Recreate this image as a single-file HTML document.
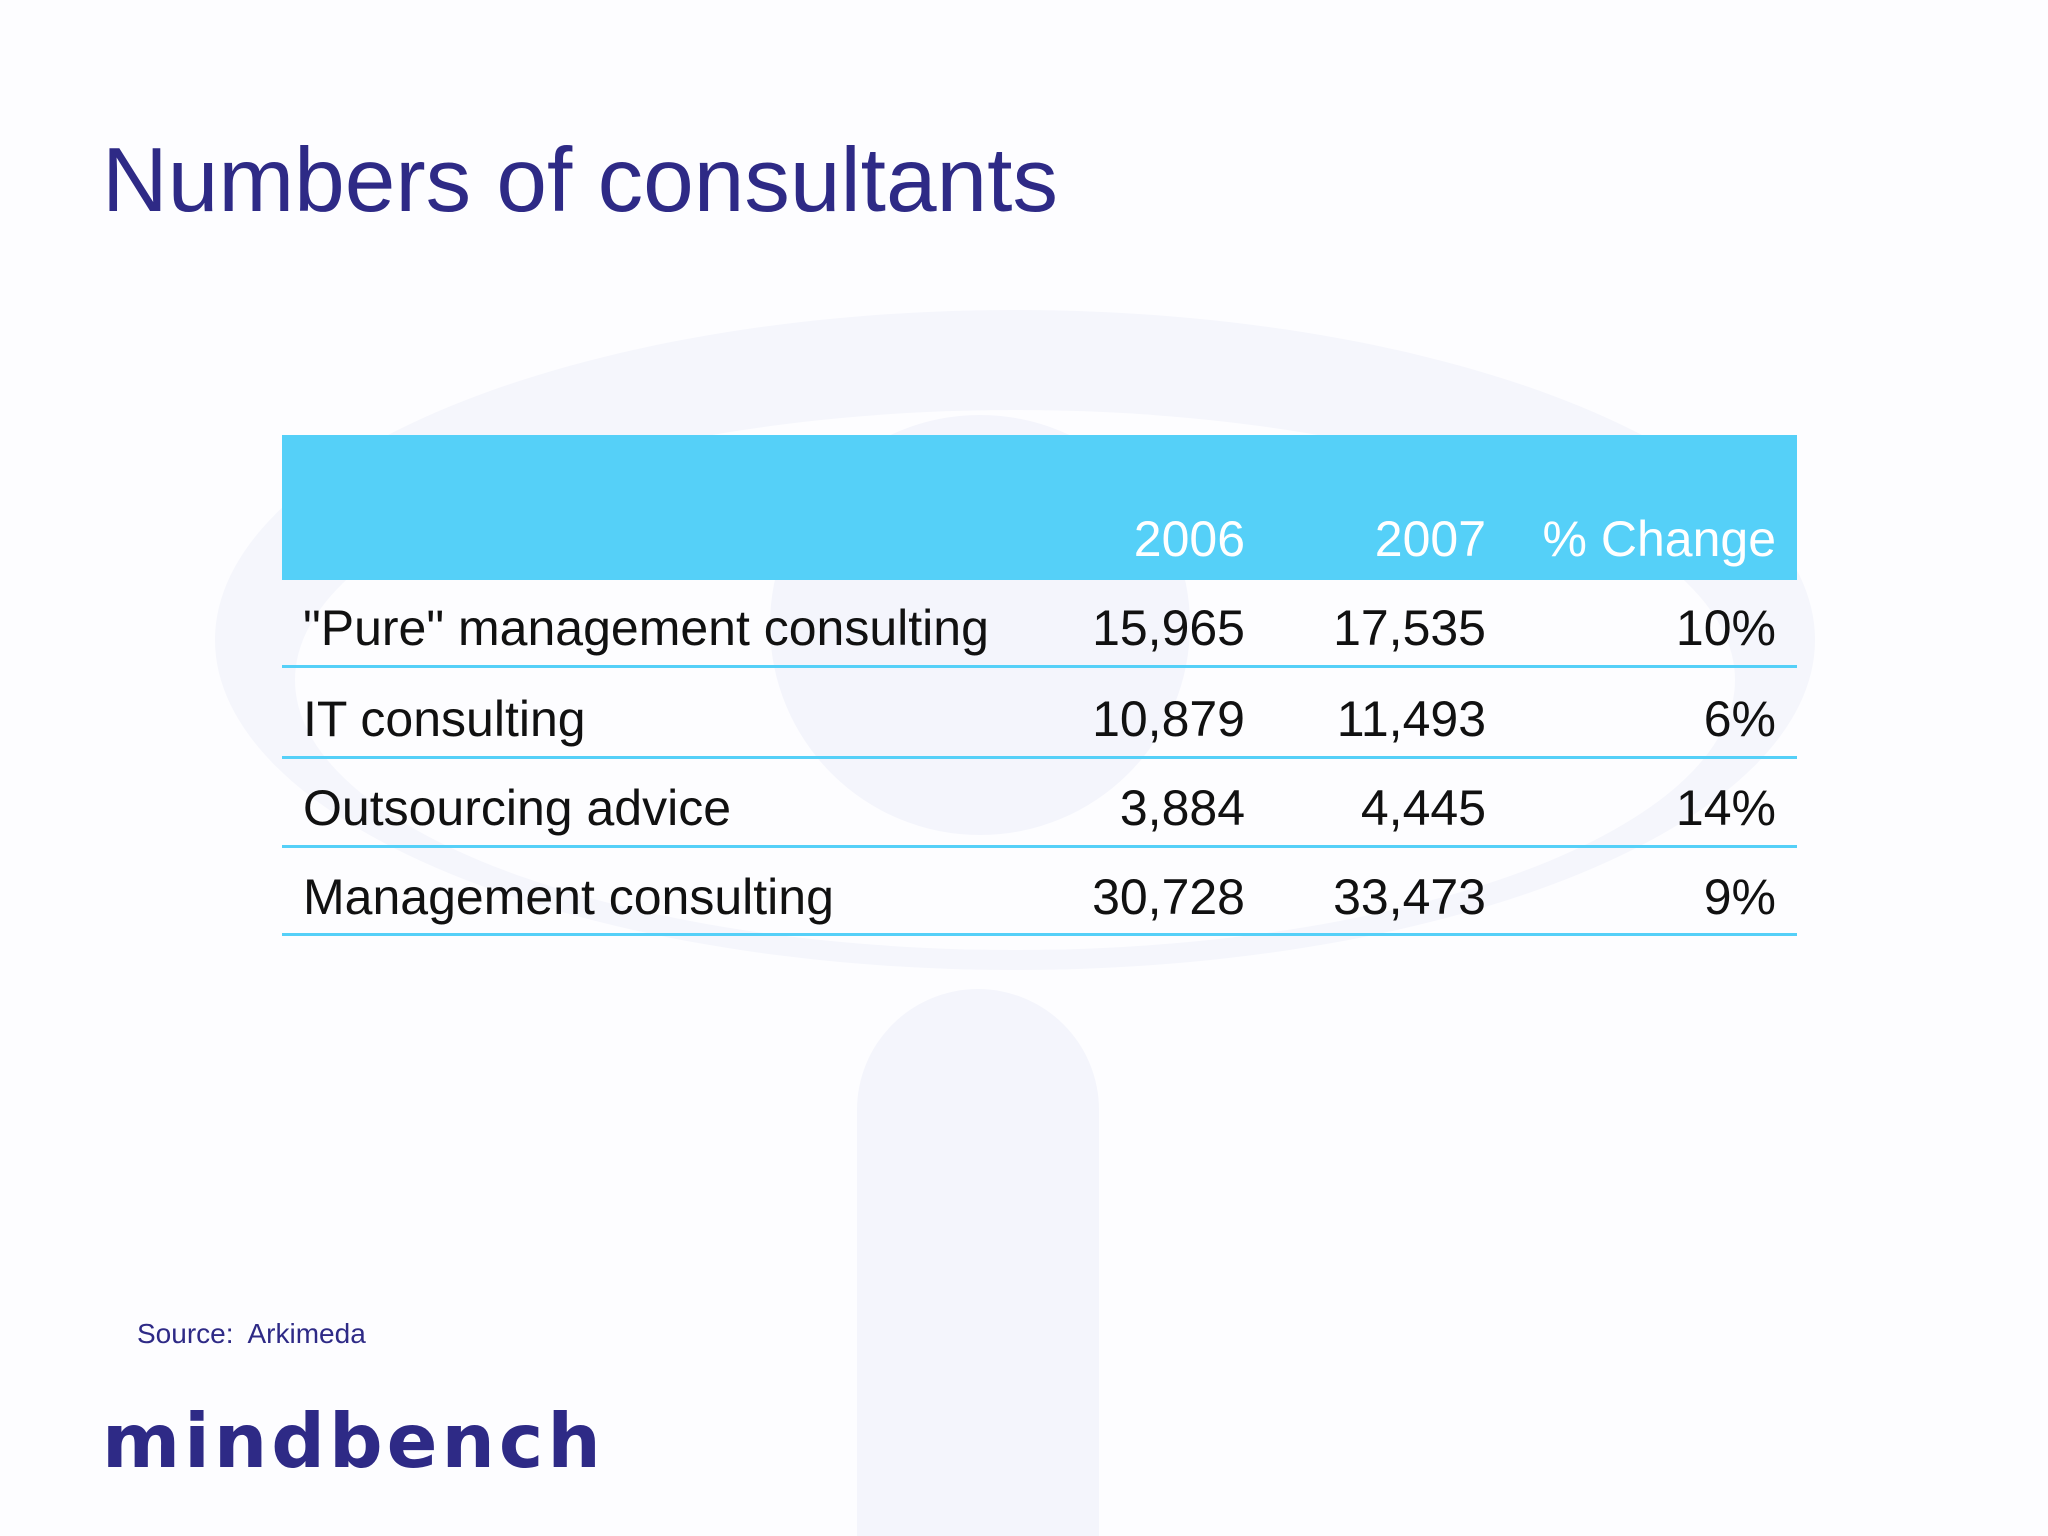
<!DOCTYPE html>
<html><head><meta charset="utf-8"><style>
body{margin:0;width:2048px;height:1536px;position:relative;background:#fdfdff;overflow:hidden;font-family:"Liberation Sans",sans-serif}
.t{position:absolute;white-space:nowrap}
</style></head><body>
<svg style="position:absolute;left:0;top:0" width="2048" height="1536">
<ellipse cx="1015" cy="640" rx="800" ry="330" fill="#f5f6fc"/>
<ellipse cx="1015" cy="680" rx="720" ry="270" fill="#fdfdff"/>
<circle cx="980" cy="625" r="210" fill="#f4f5fc"/>
<path d="M857 1536 V1110 a121 121 0 0 1 242 0 V1536 Z" fill="#f4f5fc"/>
</svg>
<div class="t" style="left:102px;top:129px;font-size:91px;color:#2e2a86">Numbers of consultants</div>
<div style="position:absolute;left:282px;top:435px;width:1515px;height:145px;background:#55d0f8"></div>
<div id="tbl"></div>
<div class="t" style="left:137px;top:1318px;font-size:28px;color:#2e2a86">Source:&nbsp; Arkimeda</div>
<div class="t" style="left:102px;top:1397px;font-family:'DejaVu Sans',sans-serif;font-weight:bold;font-size:75px;letter-spacing:4px;color:#2e2a86">mindbench</div>
<script>
const labels=['"Pure" management consulting','IT consulting','Outsourcing advice','Management consulting'];
const v2006=['15,965','10,879','3,884','30,728'];
const v2007=['17,535','11,493','4,445','33,473'];
const change=['10%','6%','14%','9%'];
const headers=['2006','2007','% Change'];
const tbl=document.getElementById('tbl');
const colR=[1245,1486,1776];
function txt(s,x,base,right,color,name){const d=document.createElement('div');d.className='t';


d.textContent=s;d.style.fontSize='50px';d.style.lineHeight='50px';d.style.top=(base-45)+'px';d.style.color=color;
if(right){d.style.right=(2048-x)+'px';}else d.style.left=x+'px';tbl.appendChild(d);}
headers.forEach((h,i)=>txt(h,colR[i],559,true,'#ffffff','header-'+i));
const bases=[648,739,828,917];const lines=[666,757,846,934];
labels.forEach((l,r)=>{
txt(l,303,bases[r],false,'#111','row-label');
txt(v2006[r],colR[0],bases[r],true,'#111','value-2006');
txt(v2007[r],colR[1],bases[r],true,'#111','value-2007');
txt(change[r],colR[2],bases[r],true,'#111','value-change');
const ln=document.createElement('div');


ln.style.cssText='position:absolute;left:282px;width:1515px;height:3px;background:#55d0f8;top:'+(lines[r]-1)+'px';tbl.appendChild(ln);
});
</script>
</body></html>
